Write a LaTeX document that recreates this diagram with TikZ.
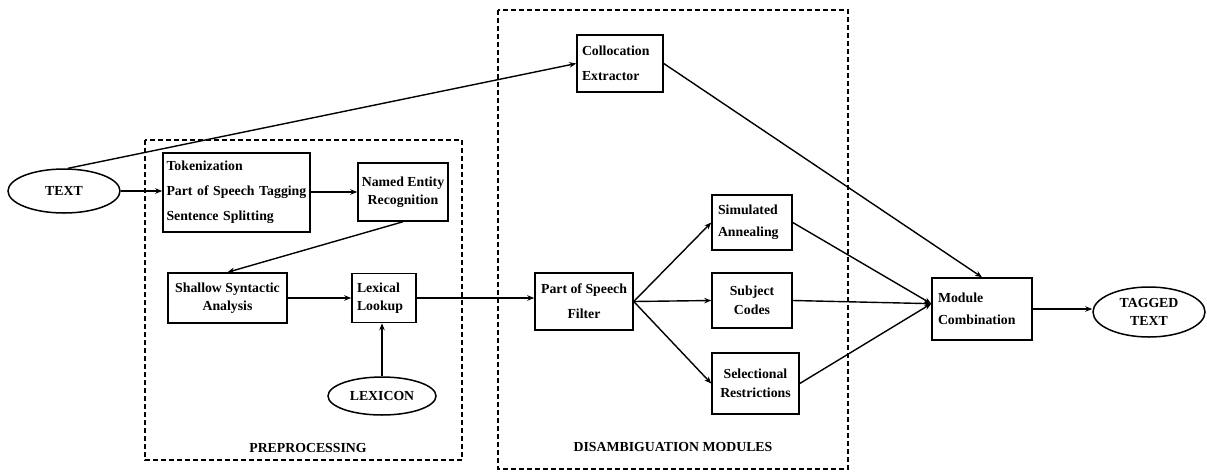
\documentclass[tikz,border=0pt]{standalone}
\usepackage{fontspec}
\setmainfont{Liberation Serif}
\usetikzlibrary{shapes.geometric,arrows.meta}
\begin{document}
\begin{tikzpicture}[x=1pt,y=-1pt,
  every node/.style={font=\bfseries\fontsize{13.8}{18}\selectfont},
  wide/.style={font=\bfseries\fontsize{13.8}{25}\selectfont},
  box/.style={draw, line width=1.5pt, rectangle, inner sep=0pt, align=center},
  oval/.style={draw, line width=1.5pt, ellipse, inner sep=0pt, align=center},
  conn/.style={line width=1.4pt, -{Stealth[length=7pt,width=5.5pt]}},
  region/.style={draw, line width=1.3pt, dash pattern=on 5pt off 3pt}
]
\useasboundingbox (0,0) rectangle (1207,472);

% regions
\draw[region] (145,140) rectangle (462,460);
\draw[region] (498,10) rectangle (848,469);
\node (prelab) at (308,448) {PREPROCESSING};
\node (dislab) at (673,447) {DISAMBIGUATION MODULES};

% nodes
\node[oval, minimum width=112pt, minimum height=44pt] (text) at (64,191) {TEXT};
\node[box, wide, minimum width=147pt, minimum height=79pt, text width=140pt, align=left] (tok) at (236.5,192.5) {Tokenization\\Part of Speech Tagging\\Sentence Splitting};
\node[box, minimum width=90pt, minimum height=58pt] (ner) at (403,192) {Named Entity\\Recognition};
\node[box, minimum width=119pt, minimum height=50pt] (ssa) at (227.5,298) {Shallow Syntactic\\Analysis};
\node[box, minimum width=64pt, minimum height=49pt, text width=54pt, align=left] (lex) at (384,298) {Lexical\\Lookup};
\node[oval, minimum width=108pt, minimum height=38pt] (lexicon) at (382,396) {LEXICON};
\node[box, wide, minimum width=86pt, minimum height=57pt, text width=76pt, align=left] (coll) at (620,63.5) {Collocation\\Extractor};
\node[box, wide, minimum width=98pt, minimum height=57pt] (pos) at (584,301.5) {Part of Speech\\Filter};
\node[box, font=\bfseries\fontsize{13.8}{22}\selectfont, minimum width=80pt, minimum height=55pt, text width=68pt, align=left] (sim) at (752,222.5) {Simulated\\Annealing};
\node[box, font=\bfseries\fontsize{13.8}{19}\selectfont, minimum width=80pt, minimum height=55pt] (subj) at (752,300.5) {Subject\\Codes};
\node[box, font=\bfseries\fontsize{13.8}{19}\selectfont, minimum width=87pt, minimum height=61pt] (sel) at (755.5,383.5) {Selectional\\Restrictions};
\node[box, font=\bfseries\fontsize{13.8}{22}\selectfont, minimum width=100pt, minimum height=62pt, text width=88pt, align=left] (mod) at (982,309) {Module\\Combination};
\node[oval, minimum width=112pt, minimum height=50pt] (tagged) at (1149,312) {TAGGED\\TEXT};

% connectors
\draw[conn] (text.east) -- (text.east -| tok.west);
\draw[conn] (text.80) -- (coll.west);
\draw[conn] (tok.east |- ner.west) -- (ner.west);
\draw[conn] (ner.south) -- (ssa.north);
\draw[conn] (ssa.east) -- (lex.west);
\draw[conn] (lexicon.north) -- (lexicon.north |- lex.south);
\draw[conn] (lex.east) -- (lex.east -| pos.west);
\draw[conn] (pos.east) -- (sim.west);
\draw[conn] (pos.east) -- (subj.west);
\draw[conn] (pos.east) -- (sel.west);
\draw[conn] (coll.east) -- (mod.north);
\draw[conn] (sim.east) -- (mod.174);
\draw[conn] (subj.east) -- (mod.174);
\draw[conn] (sel.east) -- (mod.174);
\draw[conn] (mod.east) -- (mod.east -| tagged.west);
\end{tikzpicture}
\end{document}
